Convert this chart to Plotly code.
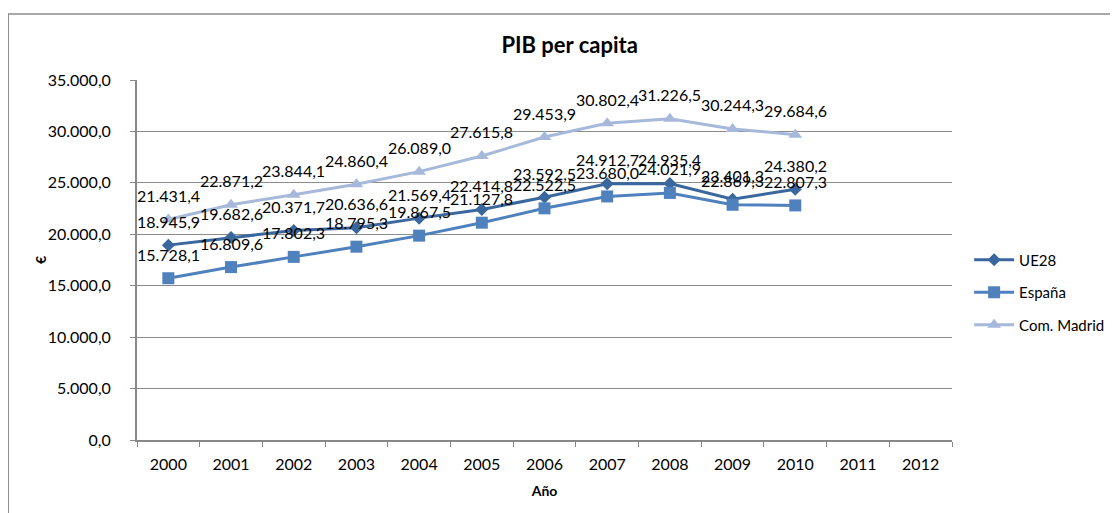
import plotly.graph_objects as go

years = [str(y) for y in range(2000, 2013)]
data_years = [str(y) for y in range(2000, 2011)]
ue28 = [18945.9, 19682.6, 20371.7, 20636.6, 21569.4, 22414.8, 23592.5, 24912.7, 24935.4, 23401.3, 24380.2]
espana = [15728.1, 16809.6, 17802.3, 18795.3, 19867.5, 21127.8, 22522.5, 23680.0, 24021.9, 22869.3, 22807.3]
madrid = [21431.4, 22871.2, 23844.1, 24860.4, 26089.0, 27615.8, 29453.9, 30802.4, 31226.5, 30244.3, 29684.6]

series = [
    ("UE28", ue28, "#3A679D", "diamond", 10),
    ("España", espana, "#4F81BD", "square", 12),
    ("Com. Madrid", madrid, "#A6B9DB", "triangle-up", 12),
]

FONT = "Lato, Carlito, Calibri, sans-serif"

def fmt(v):
    s = f"{v:,.1f}"
    return s.replace(",", "X").replace(".", ",").replace("X", ".")

fig = go.Figure()
annotations = []
for i, (name, vals, color, sym, size) in enumerate(series):
    fig.add_trace(go.Scatter(
        x=data_years, y=vals, name=name, mode="lines+markers",
        line=dict(color=color, width=3),
        marker=dict(symbol=sym, size=size, color=color),
        legendgroup=f"g{i}",
    ))
    for k, v in enumerate(vals):
        annotations.append(dict(
            x=years.index(data_years[k]), y=v, xref="x", yref="y", text=fmt(v), showarrow=False,
            yshift=24, font=dict(family=FONT, size=16, color="#000000"),
        ))

annotations.append(dict(
    x=-0.119, y=0.5, xref="paper", yref="paper", text="<b>€</b>", showarrow=False,
    xanchor="center", yanchor="middle",
    textangle=-90, font=dict(family=FONT, size=14, color="#000000"),
))

fig.update_layout(
    width=1110, height=505,
    margin=dict(l=129, r=166, t=72, b=73, autoexpand=False),
    paper_bgcolor="white", plot_bgcolor="white",
    separators=",.",
    font=dict(family=FONT, size=16, color="#000000"),
    title=dict(text="<b>PIB per capita</b>", x=0.506, xref="container", xanchor="center",
               y=0.927, yref="container", yanchor="middle",
               font=dict(family=FONT, size=22, color="#000000")),
    xaxis=dict(
        type="category", categoryorder="array", categoryarray=years,
        range=[-0.5, len(years) - 0.5],
        tickmode="array", tickvals=years, ticktext=years,
        tickson="boundaries", ticks="outside", ticklen=5, tickcolor="#888888",
        showline=True, linecolor="#888888", linewidth=2, showgrid=False,
        tickfont=dict(family=FONT, size=16), ticklabelstandoff=9,
        title=dict(text="<b>Año</b>", font=dict(family=FONT, size=14), standoff=14),
        fixedrange=True, automargin=False,
    ),
    yaxis=dict(
        range=[0, 35000], dtick=5000, tickformat=",.1f",
        ticks="outside", ticklen=5, tickcolor="#888888",
        showline=True, linecolor="#888888", linewidth=2,
        showgrid=True, gridcolor="#8C8C8C", gridwidth=1,
        zeroline=False, tickfont=dict(family=FONT, size=16), ticklabelstandoff=16,
        fixedrange=True, automargin=False,
    ),
    legend=dict(
        x=1.021, y=0.41, xanchor="left", yanchor="middle",
        font=dict(family=FONT, size=15), tracegroupgap=10,
        bgcolor="rgba(0,0,0,0)", itemwidth=40,
    ),
    annotations=annotations,
    shapes=[dict(type="rect", xref="paper", yref="paper",
                 x0=-0.158, x1=1.25, y0=-0.25, y1=1.183,
                 line=dict(color="#8C8C8C", width=1.5), layer="below")],
)

fig.write_html("out.html")
